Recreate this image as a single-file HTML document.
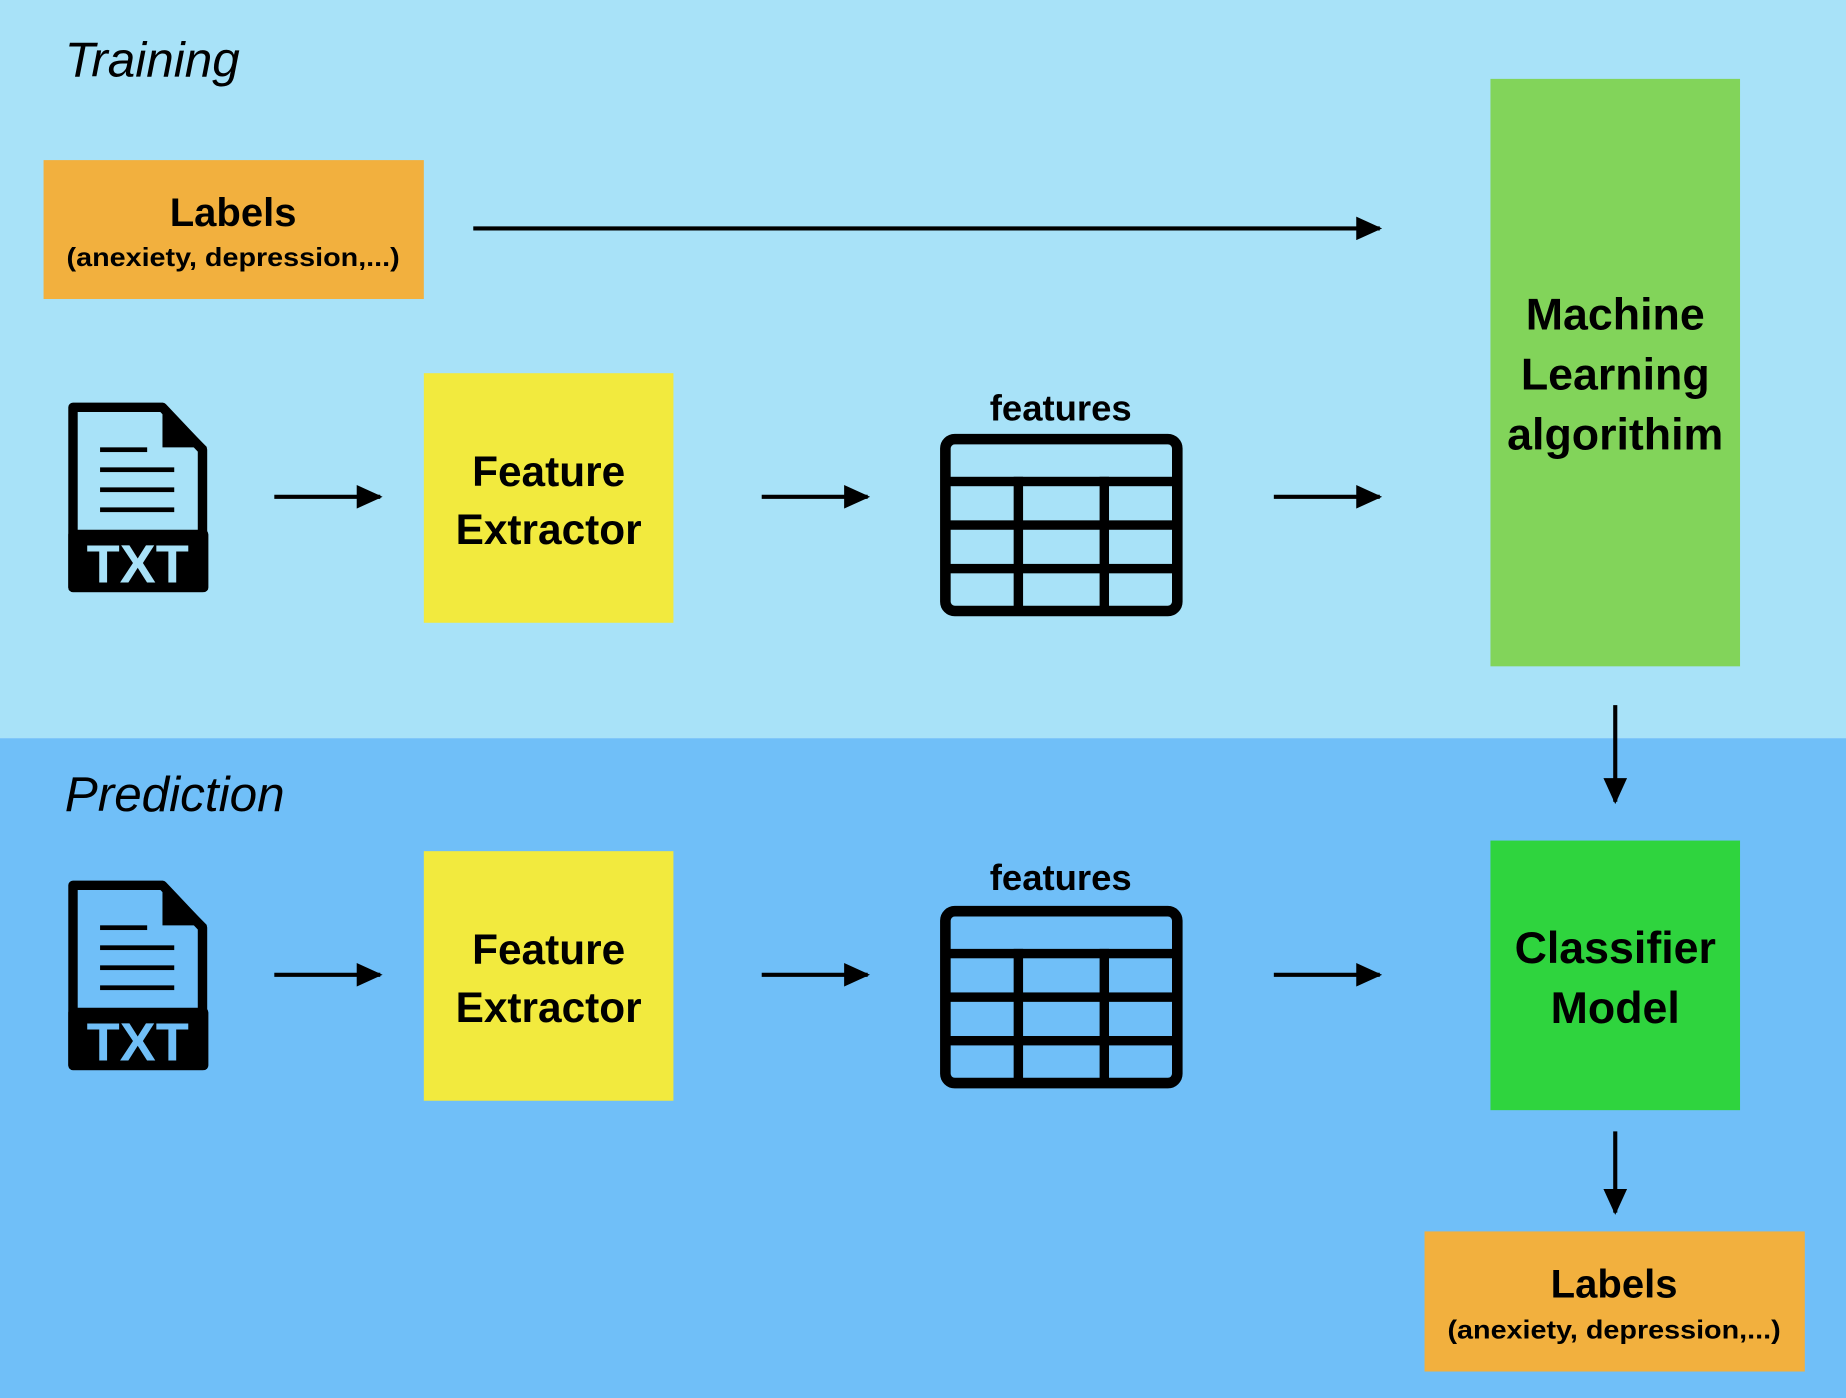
<!DOCTYPE html>
<html><head><meta charset="utf-8"><style>
html,body{margin:0;padding:0;width:1846px;height:1398px;overflow:hidden}
svg{display:block}
text{font-family:"Liberation Sans",sans-serif}
</style></head><body>
<svg width="1846" height="1398" viewBox="0 0 1568 1187.5" preserveAspectRatio="none" xmlns="http://www.w3.org/2000/svg">
<defs>
<marker id="ah" markerWidth="22" markerHeight="20" refX="20" refY="10" orient="auto" markerUnits="userSpaceOnUse" viewBox="0 0 22 20">
<path d="M0,0 L22,10 L0,20 z" fill="#000"/></marker>
<g id="txt">
<path d="M4,4 H80 L114,40 V157 H4 Z" fill="none" stroke="#000" stroke-width="8" stroke-linejoin="round"/>
<path d="M80,0 L118,38 H80 Z" fill="#000"/>
<rect x="0" y="108" width="119" height="53" rx="4" fill="#000"/>
<rect x="27" y="38" width="40" height="4" fill="#000"/>
<rect x="27" y="55" width="63" height="4" fill="#000"/>
<rect x="27" y="72" width="63" height="4" fill="#000"/>
<rect x="27" y="89" width="63" height="4" fill="#000"/>
</g>
<g id="tbl">
<rect x="803" y="373" width="197" height="146" rx="8" fill="none" stroke="#000" stroke-width="9"/>
<rect x="803" y="405" width="197" height="8" fill="#000"/>
<rect x="803" y="442" width="197" height="8" fill="#000"/>
<rect x="803" y="479" width="197" height="8" fill="#000"/>
<rect x="861" y="405" width="8" height="114" fill="#000"/>
<rect x="934" y="405" width="8" height="114" fill="#000"/>
</g>
</defs>
<rect x="0" y="0" width="1568" height="627" fill="#a8e2f8"/>
<rect x="0" y="627" width="1568" height="561" fill="#70bff8"/>

<text x="55" y="65" font-size="42" font-style="italic">Training</text>
<text x="55" y="689" font-size="42" font-style="italic">Prediction</text>

<rect x="37" y="136" width="323" height="118" fill="#f2b03e"/>
<text x="198" y="192" font-size="34" font-weight="bold" text-anchor="middle">Labels</text>
<text x="198" y="226" font-size="22" font-weight="600" text-anchor="middle" textLength="283" lengthAdjust="spacingAndGlyphs">(anexiety, depression,...)</text>
<line x1="402" y1="194" x2="1172" y2="194" stroke="#000" stroke-width="3.5" marker-end="url(#ah)"/>

<rect x="1266" y="67" width="212" height="499" fill="#82d45a"/>
<text x="1372" y="280" font-size="38" font-weight="bold" text-anchor="middle">Machine</text>
<text x="1372" y="331" font-size="38" font-weight="bold" text-anchor="middle">Learning</text>
<text x="1372" y="382" font-size="38" font-weight="bold" text-anchor="middle">algorithim</text>

<g transform="translate(58,342)"><use href="#txt"/><text x="59" y="153" font-size="46" font-weight="bold" fill="#a8e2f8" text-anchor="middle">TXT</text></g>
<line x1="233" y1="422" x2="323" y2="422" stroke="#000" stroke-width="3.5" marker-end="url(#ah)"/>
<rect x="360" y="317" width="212" height="212" fill="#f2ea3e"/>
<text x="466" y="413" font-size="36" font-weight="bold" text-anchor="middle">Feature</text>
<text x="466" y="462" font-size="36" font-weight="bold" text-anchor="middle">Extractor</text>
<line x1="647" y1="422" x2="737" y2="422" stroke="#000" stroke-width="3.5" marker-end="url(#ah)"/>
<text x="901" y="357" font-size="31" font-weight="bold" text-anchor="middle">features</text>
<use href="#tbl"/>
<line x1="1082" y1="422" x2="1172" y2="422" stroke="#000" stroke-width="3.5" marker-end="url(#ah)"/>

<line x1="1372" y1="599" x2="1372" y2="681" stroke="#000" stroke-width="3.5" marker-end="url(#ah)"/>

<g transform="translate(58,748)"><use href="#txt"/><text x="59" y="153" font-size="46" font-weight="bold" fill="#70bff8" text-anchor="middle">TXT</text></g>
<line x1="233" y1="828" x2="323" y2="828" stroke="#000" stroke-width="3.5" marker-end="url(#ah)"/>
<rect x="360" y="723" width="212" height="212" fill="#f2ea3e"/>
<text x="466" y="819" font-size="36" font-weight="bold" text-anchor="middle">Feature</text>
<text x="466" y="868" font-size="36" font-weight="bold" text-anchor="middle">Extractor</text>
<line x1="647" y1="828" x2="737" y2="828" stroke="#000" stroke-width="3.5" marker-end="url(#ah)"/>
<text x="901" y="756" font-size="31" font-weight="bold" text-anchor="middle">features</text>
<g transform="translate(0,401)"><use href="#tbl"/></g>
<line x1="1082" y1="828" x2="1172" y2="828" stroke="#000" stroke-width="3.5" marker-end="url(#ah)"/>

<rect x="1266" y="714" width="212" height="229" fill="#2fd43e"/>
<text x="1372" y="818" font-size="38" font-weight="bold" text-anchor="middle">Classifier</text>
<text x="1372" y="869" font-size="38" font-weight="bold" text-anchor="middle">Model</text>

<line x1="1372" y1="961" x2="1372" y2="1030" stroke="#000" stroke-width="3.5" marker-end="url(#ah)"/>

<rect x="1210" y="1046" width="323" height="119" fill="#f2b03e"/>
<text x="1371" y="1102" font-size="34" font-weight="bold" text-anchor="middle">Labels</text>
<text x="1371" y="1137" font-size="22" font-weight="600" text-anchor="middle" textLength="283" lengthAdjust="spacingAndGlyphs">(anexiety, depression,...)</text>
</svg>
</body></html>
